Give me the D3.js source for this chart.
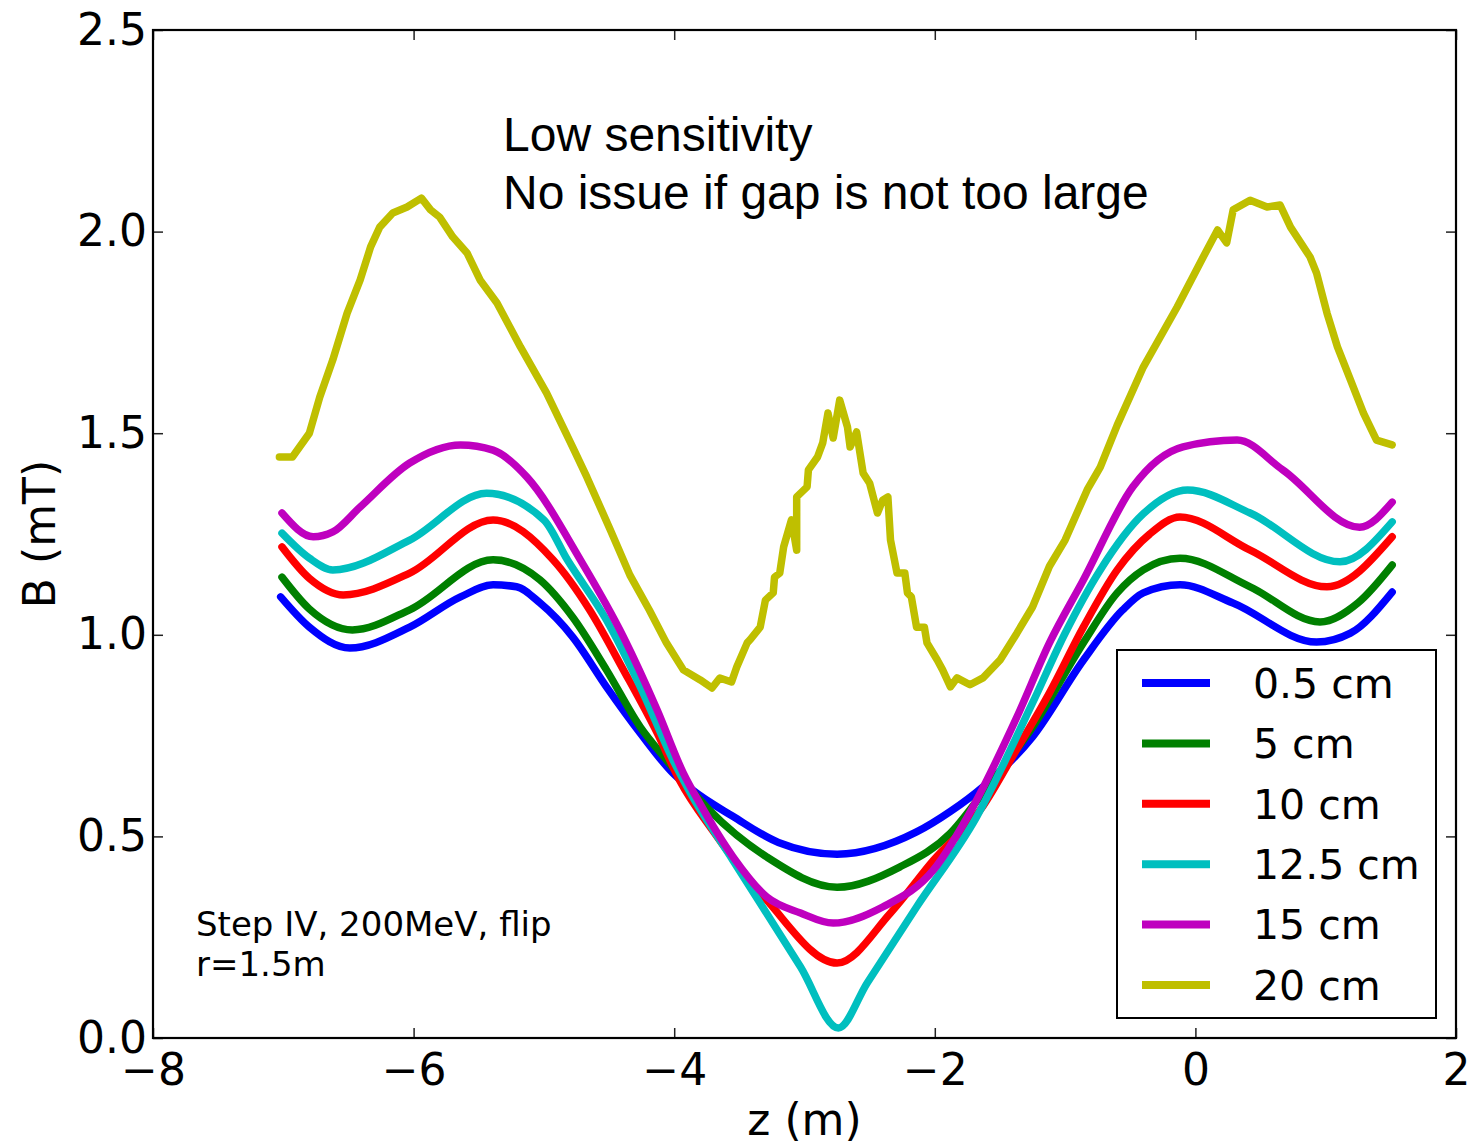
<!DOCTYPE html>
<html>
<head>
<meta charset="utf-8">
<script src="https://cdn.jsdelivr.net/npm/d3@7"></script>
<style>
  html, body { margin: 0; padding: 0; background: #fff; }
  svg { display: block; }
</style>
</head>
<body>
<svg id="chart" width="1476" height="1142"></svg>
<script>
// ---------------- DATA ----------------
const xTicks = [-8, -6, -4, -2, 0, 2];
const yTicks = [0.0, 0.5, 1.0, 1.5, 2.0, 2.5];
const seriesLabels = ["0.5 cm", "5 cm", "10 cm", "12.5 cm", "15 cm", "20 cm"];
const seriesColors = ["#0000ff", "#008000", "#ff0000", "#00bfbf", "#bf00bf", "#bfbf00"];

const gap05 = [[-7.02,1.094],[-6.80,1.019],[-6.49,0.967],[-6.03,1.019],[-5.64,1.094],[-5.39,1.124],[-5.21,1.119],[-5.03,1.079],[-4.78,0.995],[-4.52,0.871],[-4.26,0.756],[-4.01,0.657],[-3.86,0.615],[-3.55,0.550],[-3.2,0.485],[-2.75,0.456],[-2.14,0.511],[-1.88,0.562],[-1.63,0.623],[-1.25,0.747],[-0.86,0.937],[-0.56,1.061],[-0.40,1.104],[-0.118,1.124],[0.288,1.079],[0.93,0.982],[1.19,1.004],[1.51,1.106]];
const gap5 = [[-7.01,1.143],[-6.80,1.064],[-6.47,1.012],[-6.03,1.062],[-5.39,1.186],[-5.03,1.136],[-4.78,1.044],[-4.52,0.913],[-4.26,0.771],[-4.06,0.690],[-3.73,0.565],[-3.29,0.449],[-2.75,0.374],[-2.27,0.424],[-1.88,0.508],[-1.63,0.608],[-1.25,0.771],[-0.86,0.980],[-0.60,1.104],[-0.40,1.161],[-0.118,1.190],[0.42,1.119],[0.956,1.032],[1.25,1.080],[1.51,1.173]];
const gap10 = [[-7.01,1.218],[-6.80,1.140],[-6.54,1.099],[-6.03,1.153],[-5.39,1.285],[-4.93,1.186],[-4.65,1.062],[-4.39,0.913],[-4.13,0.756],[-3.96,0.640],[-3.69,0.508],[-3.29,0.342],[-2.75,0.186],[-2.34,0.310],[-2.01,0.441],[-1.63,0.575],[-1.40,0.700],[-1.12,0.856],[-0.86,1.019],[-0.60,1.161],[-0.35,1.250],[-0.118,1.292],[0.42,1.210],[1.01,1.119],[1.51,1.243]];
const gap125 = [[-7.01,1.252],[-6.80,1.190],[-6.62,1.161],[-6.03,1.235],[-5.44,1.351],[-5.0,1.285],[-4.82,1.186],[-4.52,1.037],[-4.26,0.871],[-4.01,0.690],[-3.88,0.610],[-3.55,0.441],[-3.03,0.176],[-2.74,0.025],[-2.52,0.136],[-2.14,0.325],[-1.68,0.548],[-1.25,0.831],[-1.0,1.004],[-0.73,1.161],[-0.40,1.300],[-0.06,1.359],[0.42,1.302],[1.11,1.181],[1.51,1.280]];
const gap15 = [[-7.01,1.302],[-6.77,1.243],[-6.62,1.255],[-6.41,1.317],[-6.03,1.426],[-5.64,1.471],[-5.39,1.458],[-5.13,1.391],[-4.72,1.186],[-4.39,0.995],[-4.13,0.813],[-3.93,0.657],[-3.80,0.580],[-3.55,0.450],[-3.29,0.350],[-3.03,0.310],[-2.78,0.285],[-2.4,0.325],[-2.01,0.417],[-1.75,0.548],[-1.37,0.796],[-1.12,0.980],[-0.86,1.136],[-0.48,1.367],[-0.095,1.466],[0.32,1.483],[0.67,1.409],[1.26,1.267],[1.51,1.329]];
const gap20 = [[-7.03,1.441],[-6.93,1.441],[-6.80,1.500],[-6.72,1.590],[-6.62,1.682],[-6.51,1.798],[-6.41,1.880],[-6.33,1.962],[-6.26,2.011],[-6.16,2.046],[-6.05,2.061],[-5.94,2.083],[-5.87,2.054],[-5.80,2.036],[-5.70,1.987],[-5.59,1.947],[-5.49,1.880],[-5.36,1.823],[-5.18,1.714],[-4.98,1.600],[-4.78,1.466],[-4.67,1.391],[-4.49,1.260],[-4.34,1.148],[-4.19,1.061],[-4.06,0.980],[-3.93,0.913],[-3.80,0.888],[-3.71,0.868],[-3.65,0.893],[-3.56,0.883],[-3.52,0.920],[-3.44,0.980],[-3.42,0.987],[-3.34,1.019],[-3.30,1.086],[-3.24,1.104],[-3.23,1.143],[-3.19,1.153],[-3.16,1.218],[-3.10,1.285],[-3.06,1.210],[-3.06,1.342],[-2.98,1.367],[-2.97,1.409],[-2.90,1.441],[-2.86,1.476],[-2.82,1.550],[-2.78,1.488],[-2.73,1.582],[-2.67,1.515],[-2.65,1.466],[-2.60,1.503],[-2.55,1.401],[-2.50,1.376],[-2.44,1.302],[-2.40,1.334],[-2.36,1.342],[-2.34,1.235],[-2.29,1.153],[-2.23,1.153],[-2.21,1.104],[-2.18,1.094],[-2.14,1.019],[-2.08,1.019],[-2.06,0.980],[-1.98,0.937],[-1.94,0.913],[-1.88,0.871],[-1.83,0.893],[-1.73,0.876],[-1.63,0.893],[-1.50,0.937],[-1.37,1.004],[-1.25,1.069],[-1.12,1.170],[-1.0,1.235],[-0.83,1.360],[-0.73,1.416],[-0.60,1.520],[-0.40,1.664],[-0.14,1.813],[0.06,1.937],[0.17,2.004],[0.24,1.972],[0.29,2.054],[0.42,2.078],[0.55,2.061],[0.65,2.066],[0.73,2.011],[0.88,1.937],[0.93,1.897],[1.01,1.798],[1.09,1.714],[1.19,1.632],[1.29,1.550],[1.39,1.483],[1.51,1.471]];

const allSeries = [gap05, gap5, gap10, gap125, gap15, gap20];
const noisy = [false, false, false, false, false, true];

// ---------------- DRAW ----------------
const svg = d3.select("#chart");
const x = d3.scaleLinear().domain([-8, 2]).range([153, 1456]);
const y = d3.scaleLinear().domain([0, 2.5]).range([1038, 30]);

const tickFont = "DejaVu Sans, Verdana, sans-serif";

const smooth = d3.line().x(d => x(d[0])).y(d => y(d[1])).curve(d3.curveMonotoneX);
const rough = d3.line().x(d => x(d[0])).y(d => y(d[1])).curve(d3.curveLinear);

svg.append("g").selectAll("path")
  .data(allSeries)
  .join("path")
  .attr("d", (d, i) => noisy[i] ? rough(d) : smooth(d))
  .attr("fill", "none")
  .attr("stroke", (d, i) => seriesColors[i])
  .attr("stroke-width", 7.5)
  .attr("stroke-linejoin", "round")
  .attr("stroke-linecap", "round");

function styleAxis(g) {
  g.select(".domain").remove();
  g.selectAll(".tick line").attr("stroke", "#222").attr("stroke-width", 1.5);
  g.selectAll(".tick text").attr("fill", "#000").style("font-family", tickFont).style("font-size", "44px");
}

svg.append("g").attr("transform", `translate(0,${y(0)})`)
  .call(d3.axisBottom(x).tickValues(xTicks).tickSize(-10).tickPadding(16).tickFormat(d3.format("d")))
  .call(styleAxis);
svg.append("g").attr("transform", `translate(0,${y(2.5)})`)
  .call(d3.axisTop(x).tickValues(xTicks).tickSize(-10).tickFormat(""))
  .call(styleAxis);
svg.append("g").attr("transform", `translate(${x(-8)},0)`)
  .call(d3.axisLeft(y).tickValues(yTicks).tickSize(-10).tickPadding(6).tickFormat(d3.format(".1f")))
  .call(styleAxis);
svg.append("g").attr("transform", `translate(${x(2)},0)`)
  .call(d3.axisRight(y).tickValues(yTicks).tickSize(-10).tickFormat(""))
  .call(styleAxis);

svg.append("rect")
  .attr("x", x(-8)).attr("y", y(2.5))
  .attr("width", x(2) - x(-8)).attr("height", y(0) - y(2.5))
  .attr("fill", "none").attr("stroke", "#000").attr("stroke-width", 2.2);

svg.append("text")
  .attr("x", (x(-8) + x(2)) / 2).attr("y", 1135)
  .attr("text-anchor", "middle")
  .style("font-family", tickFont).style("font-size", "44px")
  .text("z (m)");
svg.append("text")
  .attr("transform", `translate(55,${(y(0) + y(2.5)) / 2}) rotate(-90)`)
  .attr("text-anchor", "middle")
  .style("font-family", tickFont).style("font-size", "44px")
  .text("B (mT)");

const annFont = "Liberation Sans, Arial, sans-serif";
svg.append("text").attr("x", 503).attr("y", 151)
  .style("font-family", annFont).style("font-size", "48px").text("Low sensitivity");
svg.append("text").attr("x", 503).attr("y", 209)
  .style("font-family", annFont).style("font-size", "48px").text("No issue if gap is not too large");

svg.append("text").attr("x", 196).attr("y", 936)
  .style("font-family", tickFont).style("font-size", "34px").text("Step IV, 200MeV, flip");
svg.append("text").attr("x", 196).attr("y", 976)
  .style("font-family", tickFont).style("font-size", "34px").text("r=1.5m");

const legend = svg.append("g");
legend.append("rect")
  .attr("x", 1117).attr("y", 650).attr("width", 319).attr("height", 368)
  .attr("fill", "#fff").attr("stroke", "#000").attr("stroke-width", 2);
const rowY = d3.scaleLinear().domain([0, 5]).range([683, 985]);
const rows = legend.selectAll("g.row").data(seriesLabels).join("g").attr("class", "row")
  .attr("transform", (d, i) => `translate(0,${rowY(i)})`);
rows.append("line")
  .attr("x1", 1142).attr("x2", 1210).attr("y1", 0).attr("y2", 0)
  .attr("stroke", (d, i) => seriesColors[i]).attr("stroke-width", 8);
rows.append("text")
  .attr("x", 1253).attr("y", 0).attr("dy", "0.36em")
  .style("font-family", tickFont).style("font-size", "41px")
  .text(d => d);
</script>
</body>
</html>
